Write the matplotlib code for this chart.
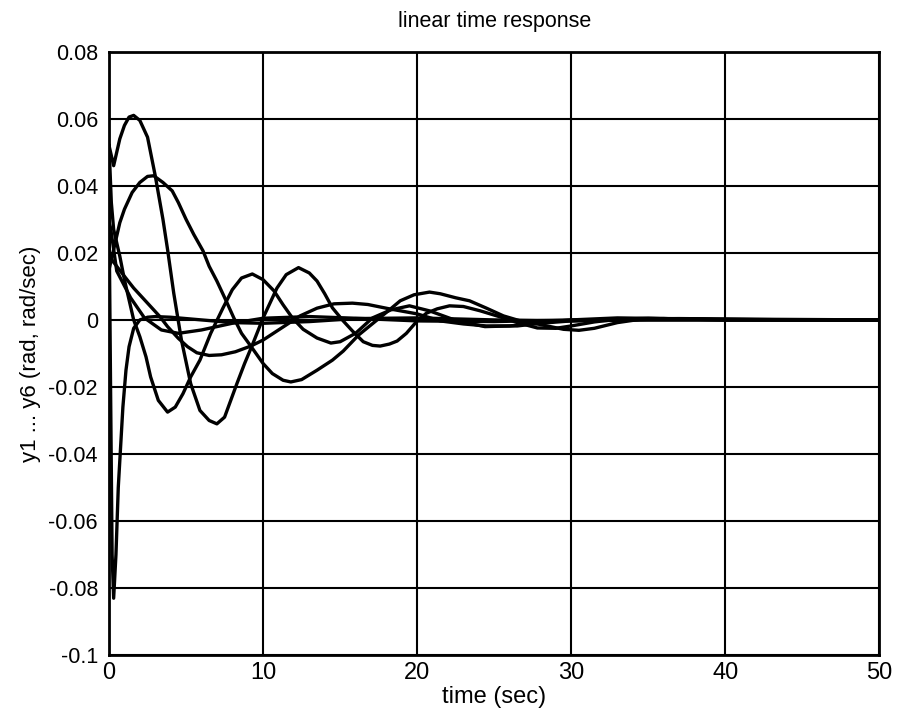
import matplotlib
matplotlib.use("Agg")
import matplotlib.pyplot as plt

plt.rcParams['font.family'] = ['Liberation Sans', 'DejaVu Sans']

# y1: largest positive swing
t1 = [0, 0.3, 0.7, 1.0, 1.3, 1.6, 2.0, 2.5, 3.0, 3.5, 3.8, 4.2, 4.7, 5.3, 5.9, 6.5, 7.0, 7.5, 8.3, 8.8, 9.3,
      10.0, 10.9, 11.5, 12.3, 13.0, 13.5, 14.0, 14.5, 15.2, 15.8, 16.5, 17.1, 17.6, 18.2, 18.7, 19.3,
      20.0, 20.6, 21.3, 22.1, 23.0, 24.1, 25.6, 26.5, 27.8, 29.0, 30.0, 31.5, 33.0, 35.0, 37.0, 40.0, 50.0]
y1 = [0.052, 0.046, 0.054, 0.058, 0.0605, 0.061, 0.0595, 0.0545, 0.043, 0.030, 0.021, 0.008, -0.006,
      -0.019, -0.027, -0.030, -0.031, -0.029, -0.019, -0.013, -0.0075, 0.0006, 0.0095, 0.0135, 0.0156,
      0.014, 0.0116, 0.0078, 0.0036, -0.0003, -0.0033, -0.0065, -0.0076, -0.0078, -0.0072, -0.0063,
      -0.004, -0.0003, 0.002, 0.0033, 0.0042, 0.004, 0.0027, 0.0006, -0.0008, -0.0024, -0.0025, -0.0018,
      -0.0006, 0.0002, 0.0005, 0.0003, 0.0, 0.0]

# y2: slow wave peaking near t=3
t2 = [0, 0.3, 0.7, 1.0, 1.5, 2.0, 2.5, 2.9, 3.5, 4.1, 4.5, 5.0, 5.5, 6.1, 6.5, 7.0, 7.6, 8.1, 8.6, 9.2,
      10.0, 10.6, 11.3, 11.8, 12.5, 13.5, 14.5, 15.2, 16.2, 17.4, 18.2, 18.9, 19.8, 20.8, 21.5, 22.5,
      23.4, 24.5, 25.6, 26.7, 27.8, 29.5, 30.5, 31.5, 33.0, 34.5, 36.0, 40.0, 45.0, 50.0]
y2 = [0.015, 0.021, 0.029, 0.033, 0.038, 0.041, 0.0428, 0.043, 0.041, 0.0385, 0.035, 0.030, 0.0255, 0.0206,
      0.016, 0.0116, 0.0057, 0.0006, -0.004, -0.0078, -0.013, -0.016, -0.018, -0.0185, -0.0178, -0.015,
      -0.012, -0.0093, -0.0045, 0.0, 0.003, 0.0057, 0.0075, 0.0083, 0.0078, 0.0066, 0.0057, 0.0035,
      0.0012, -0.0003, -0.0012, -0.0028, -0.0031, -0.0025, -0.0008, 0.0002, 0.0004, 0.0002, 0.0, 0.0]

# y3: starts high, first minimum near t=3.8
t3 = [0, 0.15, 0.3, 0.7, 1.0, 1.3, 1.6, 2.0, 2.4, 2.7, 3.2, 3.8, 4.3, 4.8, 5.3, 5.9, 6.6, 7.4, 8.0, 8.6,
      9.3, 10.0, 10.7, 11.3, 11.9, 12.6, 13.5, 14.4, 15.0, 16.0, 17.1, 18.3, 19.5, 20.8, 22.6, 24.4,
      26.0, 28.0, 30.0, 33.0, 36.0, 40.0, 50.0]
y3 = [0.052, 0.035, 0.027, 0.019, 0.012, 0.006, 0.0, -0.005, -0.011, -0.017, -0.024, -0.0275, -0.026,
      -0.022, -0.017, -0.012, -0.004, 0.0036, 0.009, 0.0125, 0.0137, 0.012, 0.0087, 0.0045, 0.0006,
      -0.0028, -0.0054, -0.0069, -0.0065, -0.004, 0.0006, 0.003, 0.0042, 0.0027, -0.0003, -0.002,
      -0.0018, -0.0008, 0.0, 0.0006, 0.0004, 0.0, 0.0]

# y4: broad shallow wave
t4 = [0, 0.5, 1.0, 1.6, 2.2, 2.7, 3.3, 3.8, 4.5, 5.1, 5.7, 6.5, 7.3, 8.2, 9.2, 10.0, 11.0, 12.4, 13.5,
      14.6, 15.8, 16.8, 18.2, 20.0, 21.5, 23.0, 24.5, 26.5, 28.0, 30.0, 33.0, 37.0, 42.0, 50.0]
y4 = [0.019, 0.016, 0.013, 0.0095, 0.0065, 0.004, 0.001, -0.002, -0.0055, -0.008, -0.0098, -0.0106,
      -0.0104, -0.0095, -0.0078, -0.006, -0.003, 0.0012, 0.0035, 0.0048, 0.005, 0.0046, 0.0033, 0.0018,
      -0.0003, -0.0012, -0.0018, -0.0018, -0.001, -0.0003, 0.0003, 0.0004, 0.0002, 0.0]

# y5: sharp initial dip
t5 = [0, 0.1, 0.2, 0.3, 0.45, 0.6, 0.75, 0.9, 1.1, 1.3, 1.6, 2.0, 2.5, 3.0, 4.0, 6.0, 8.0, 10.0, 13.0,
      16.0, 20.0, 25.0, 30.0, 35.0, 50.0]
y5 = [0.033, -0.02, -0.07, -0.083, -0.07, -0.05, -0.038, -0.026, -0.015, -0.008, -0.0025, 0.0, 0.0008,
      0.001, 0.0008, 0.0, -0.0008, -0.001, -0.0005, 0.0004, 0.0006, 0.0, -0.0003, 0.0, 0.0]

# y6: fast initial decay
t6 = [0, 0.1, 0.5, 1.4, 2.3, 3.4, 4.5, 6.0, 8.0, 10.0, 13.0, 16.0, 20.0, 25.0, 30.0, 50.0]
y6 = [0.029, 0.0275, 0.0146, 0.0066, 0.0006, -0.003, -0.004, -0.003, -0.001, 0.0005, 0.001, 0.0005,
      -0.0003, -0.0005, 0.0, 0.0]

ytick_vals = [-0.1, -0.08, -0.06, -0.04, -0.02, 0, 0.02, 0.04, 0.06, 0.08]
ytick_labels = ['-0.1', '-0.08', '-0.06', '-0.04', '-0.02', '0', '0.02', '0.04', '0.06', '0.08']
xtick_vals = [0, 10, 20, 30, 40, 50]

fig = plt.figure(figsize=(9.01, 7.28), dpi=100)
ax = fig.add_axes([0.121, 0.100, 0.855, 0.829])

for t, y in [(t1, y1), (t2, y2), (t3, y3), (t4, y4), (t5, y5), (t6, y6)]:
    ax.plot(t, y, color='black', linewidth=2.4)

ax.set_xlim(0, 50)
ax.set_ylim(-0.1, 0.08)
ax.set_xticks(xtick_vals)
ax.set_yticks(ytick_vals)
ax.set_yticklabels(ytick_labels)
ax.grid(True, color='black', linewidth=1.5, linestyle='-')
ax.set_axisbelow(True)
for s in ax.spines.values():
    s.set_linewidth(2)
ax.tick_params(axis='y', length=0, labelsize=15.5, pad=8)
ax.tick_params(axis='x', length=0, labelsize=17, pad=5)

ax.set_title('linear time response', fontsize=15.5, pad=18)
ax.set_xlabel('time (sec)', fontsize=17, labelpad=1)
ax.set_ylabel('y1 ... y6 (rad, rad/sec)', fontsize=16, labelpad=5)

fig.savefig('out.png', dpi=100)
